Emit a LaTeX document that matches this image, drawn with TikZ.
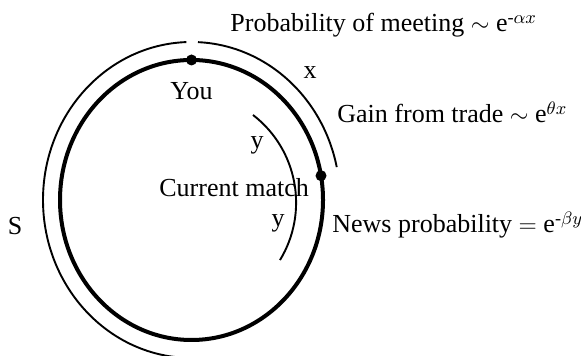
\documentclass[tikz,border=0pt]{standalone}
\usepackage{fontspec}
\setmainfont{Liberation Serif}
\usepackage{tikz}
\usetikzlibrary{positioning,calc}

\begin{document}
\begin{tikzpicture}[
  x=0.5pt,y=0.5pt,
  every node/.style={font=\fontsize{13}{15.5}\selectfont,inner sep=0pt},
  ring/.style={line width=2pt},
  arcline/.style={line width=0.95pt},
  dot/.style={circle,fill,minimum size=5.5pt,inner sep=0pt},
  lbl/.style={anchor=base west},
]
  \useasboundingbox (0,0) rectangle (581,356);
  \coordinate (ctr) at (191.5,156);
  \coordinate (mid) at (185.5,153.4);

  % rings
  \draw[ring] (ctr) ellipse[x radius=65.75pt,y radius=70pt];
  \draw[arcline] ($(ctr)+(92:148.5 and 158)$)
    arc[start angle=92,end angle=268,x radius=74.25pt,y radius=79pt];
  \draw[arcline] ($(ctr)+(87.5:148.5 and 158)$)
    arc[start angle=87.5,end angle=12,x radius=74.25pt,y radius=79pt];
  \draw[arcline] ($(mid)+(52.4:110.6)$)
    arc[start angle=52.4,end angle=-31.3,radius=55.3pt];

  % agents
  \node[dot] (you) at ($(ctr)+(90:131.5 and 140)$) {};
  \node[dot] (match) at ($(ctr)+(10:131.5 and 140)$) {};

  % labels
  \node[below=8pt of you] (youlbl) {You};
  \node (xlbl) at (310,283) {x};
  \node (yup) at (257,211) {y};
  \node (ydown) at (278,133) {y};
  \node[anchor=base] (slbl) at (15,121) {S};
  \node[lbl] (meet) at (230,324) {Probability of meeting $\sim$ e\textsuperscript{-$\alpha x$}};
  \node[lbl] (gain) at (337,233) {Gain from trade $\sim$ e\textsuperscript{$\theta x$}};
  \node[lbl] (cur) at (159,159) {Current match};
  \node[lbl] (news) at (332,123) {News probability $=$ e\textsuperscript{-$\beta y$}};
\end{tikzpicture}
\end{document}
